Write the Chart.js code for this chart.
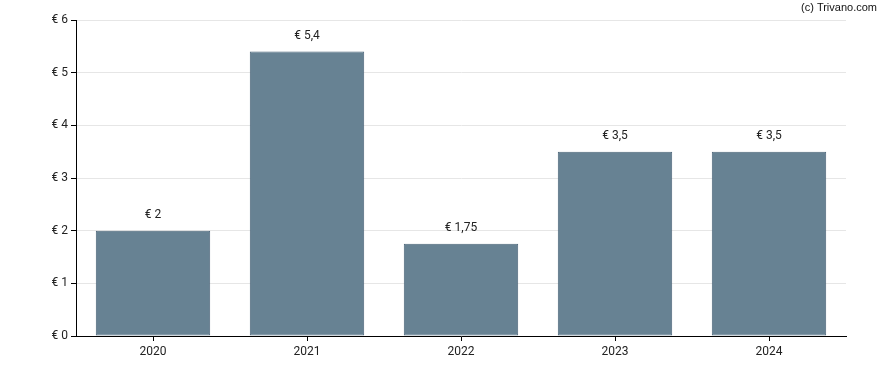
<!DOCTYPE html>
<html>
<head>
<meta charset="utf-8">
<script src="https://cdn.jsdelivr.net/npm/chart.js@4"></script>
<style>
  html, body { margin: 0; padding: 0; background: #fff; }
  #wrap { width: 888px; height: 370px; position: relative; }
</style>
</head>
<body>
<div id="wrap"><canvas id="divChart"></canvas></div>
<script>
const years = ['2020', '2021', '2022', '2023', '2024'];
const dividend = [2, 5.4, 1.75, 3.5, 3.5];
const yTicks = [0, 1, 2, 3, 4, 5, 6];

function euro(v) {
    return '€ ' + String(v).replace('.', ',');
}

// labels above bars + copyright text
const barLabels = {
    id: 'barLabels',
    afterDatasetsDraw(chart) {
        const ctx = chart.ctx;
        const meta = chart.getDatasetMeta(0);
        ctx.save();
        ctx.font = '12px Roboto';
        ctx.fillStyle = '#222';
        ctx.textAlign = 'center';
        ctx.textBaseline = 'middle';
        meta.data.forEach((bar, i) => {
            ctx.fillText(euro(dividend[i]), bar.x, bar.y - 16);
        });
        ctx.font = '11px "Liberation Sans"';
        ctx.textAlign = 'right';
        ctx.fillStyle = '#111';
        ctx.fillText('(c) Trivano.com', 877, 8);
        ctx.restore();
    }
};

let ctx = document.getElementById('divChart');
new Chart(ctx, {
    type: 'bar',
    data: {
        labels: years,
        datasets: [{
            label: 'Dividend',
            data: dividend,
            backgroundColor: 'rgb(103,130,147)',
            borderColor: 'rgb(74,100,120)',
            borderWidth: 1,
            borderSkipped: false,
            barPercentage: 0.743,
            categoryPercentage: 1
        }]
    },
    options: {
        responsive: true,
        maintainAspectRatio: false,
        animation: false,
        layout: { padding: { top: 20, right: 42, left: 0, bottom: 0 } },
        plugins: {
            legend: { display: false },
            tooltip: { enabled: false }
        },
        scales: {
            x: {
                grid: {
                    offset: false,
                    drawOnChartArea: false,
                    tickColor: '#000',
                    tickLength: 5
                },
                border: { color: '#000', width: 1 },
                ticks: {
                    color: '#222',
                    font: { family: 'Roboto', size: 12 },
                    padding: 4
                },
                afterFit: (s) => { s.height = 34; }
            },
            y: {
                min: 0,
                max: 6,
                afterBuildTicks: (s) => { s.ticks = yTicks.map(v => ({ value: v })); },
                grid: {
                    color: '#e6e6e6',
                    tickColor: '#000',
                    tickLength: 5
                },
                border: { color: '#000', width: 1 },
                ticks: {
                    color: '#222',
                    font: { family: 'Roboto', size: 12 },
                    padding: 3,
                    callback: (v) => euro(v)
                },
                afterFit: (s) => { s.width = 76; }
            }
        }
    },
    plugins: [barLabels]
});
</script>
</body>
</html>
